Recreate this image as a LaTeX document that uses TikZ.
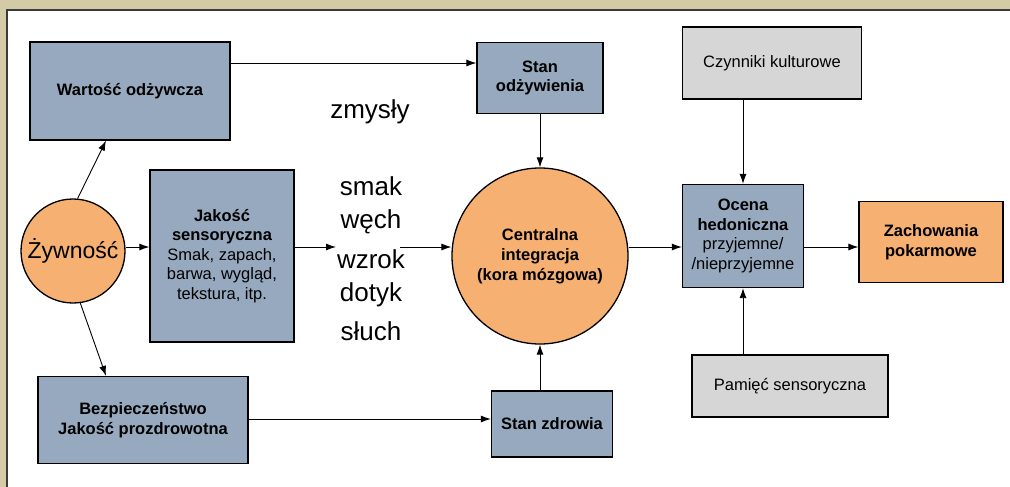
\documentclass[tikz,border=0pt]{standalone}
\usepackage{fontspec}
\setmainfont{Liberation Sans}
\usetikzlibrary{arrows.meta}
\definecolor{boxblue}{HTML}{97A9BE}
\definecolor{boxorange}{HTML}{F5B072}
\definecolor{boxgray}{HTML}{D6D6D6}
\definecolor{framebeige}{HTML}{D3CAA6}
\definecolor{framedark}{HTML}{3A3A3A}
\begin{document}
\begin{tikzpicture} [
                x=1pt, y=-1pt,
                blue box/.style={rectangle,draw=black,line width=1.3pt,fill=boxblue,align=center,inner sep=2pt,font=\fontsize{16.5}{19.5}\selectfont\bfseries},
                gray box/.style={rectangle,draw=black,line width=1.3pt,fill=boxgray,align=center,font=\fontsize{16.5}{19.5}\selectfont},
                orange box/.style={rectangle,draw=black,line width=1.3pt,fill=boxorange,align=center,font=\fontsize{16.5}{20}\selectfont\bfseries},
                blob/.style={circle,draw=black,line width=1.3pt,fill=boxorange,align=center,inner sep=0pt},
                sense/.style={font=\fontsize{26}{30}\selectfont},
                arrow edge/.style = {draw,line width=0.9pt,-{Latex[length=10pt,width=7pt]}},
            ]
            \useasboundingbox (0,0) rectangle (1010,487);
            % frame
            \fill[framebeige] (0,0) rectangle (1010,487);
            \fill[white] (7,10) rectangle (1010,487);
            \draw[framedark,line width=2pt] (7,487) -- (7,10) -- (1010,10);
            % boxes
            \node[blue box,minimum width=200pt,minimum height=98pt] (wart) at (130,91) {Warto\'s\'c od\.zywcza};
            \node[blue box,minimum width=126pt,minimum height=71pt] (odz) at (540,78) {Stan\\od\.zywienia};
            \node[gray box,minimum width=179pt,minimum height=72pt] (kult) at (772,63) {Czynniki kulturowe};
            \node[blue box,minimum width=144pt,minimum height=172pt] (jak) at (222,256) {Jako\'s\'c\\sensoryczna\\\mdseries Smak, zapach,\\\mdseries barwa, wygl\k{a}d,\\\mdseries tekstura, itp.};
            \node[blue box,minimum width=121pt,minimum height=103pt] (hed) at (743,236) {Ocena\\hedoniczna\\\mdseries przyjemne/\\\mdseries /nieprzyjemne};
            \node[orange box,minimum width=144pt,minimum height=81pt] (zach) at (931,242) {Zachowania\\pokarmowe};
            \node[gray box,minimum width=196pt,minimum height=62pt] (pam) at (790,386) {Pami\k{e}\'c sensoryczna};
            \node[blue box,minimum width=210pt,minimum height=87pt] (bezp) at (143,420) {Bezpiecze\'nstwo\\Jako\'s\'c prozdrowotna};
            \node[blue box,minimum width=121pt,minimum height=66pt] (zdr) at (552,424) {Stan zdrowia};
            % circles
            \node[blob,minimum size=104pt,font=\fontsize{23}{27}\selectfont] (zyw) at (73,251) {\.Zywno\'s\'c};
            \node[blob,minimum size=176pt,font=\fontsize{16.5}{20}\selectfont\bfseries] (cent) at (540,256) {Centralna\\integracja\\(kora m\'ozgowa)};
            % senses
            \node[sense] (zmysly) at (370,112) {zmys\l y};
            \foreach \pos/\name/\word in {
            {186/smak/smak}, {222/wech/w\k{e}ch}, {259/wzrok/wzrok}, {295/dotyk/dotyk}, {331/sluch/s\l uch}}
                \node[sense] (\name) at (371,\pos) {\word};
            \coordinate (jout) at (336,247);
            \coordinate (cin) at (400,247);
            % connectors
            \path[arrow edge] (wart.east |- 0,63) -- (odz.west |- 0,63);
            \path[arrow edge] (zyw.85) -- (wart.south -| 106,0);
            \path[arrow edge] (zyw.-82) -- (bezp.north -| 106,0);
            \path[arrow edge] (zyw.east |- 0,247) -- (jak.west |- 0,247);
            \path[arrow edge] (jak.east |- 0,247) -- (jout);
            \path[arrow edge] (cin) -- (cent.west |- 0,247);
            \path[arrow edge] (bezp.east |- 0,419) -- (zdr.west |- 0,419);
            \path[arrow edge] (odz.south) -- (cent.north);
            \path[arrow edge] (zdr.north -| cent.south) -- (cent.south);
            \path[arrow edge] (kult.south -| hed.north) -- (hed.north);
            \path[arrow edge] (pam.north -| hed.south) -- (hed.south);
            \path[arrow edge] (cent.east |- 0,247) -- (hed.west |- 0,247);
            \path[arrow edge] (hed.east |- 0,247) -- (zach.west |- 0,247);
        \end{tikzpicture}
\end{document}
